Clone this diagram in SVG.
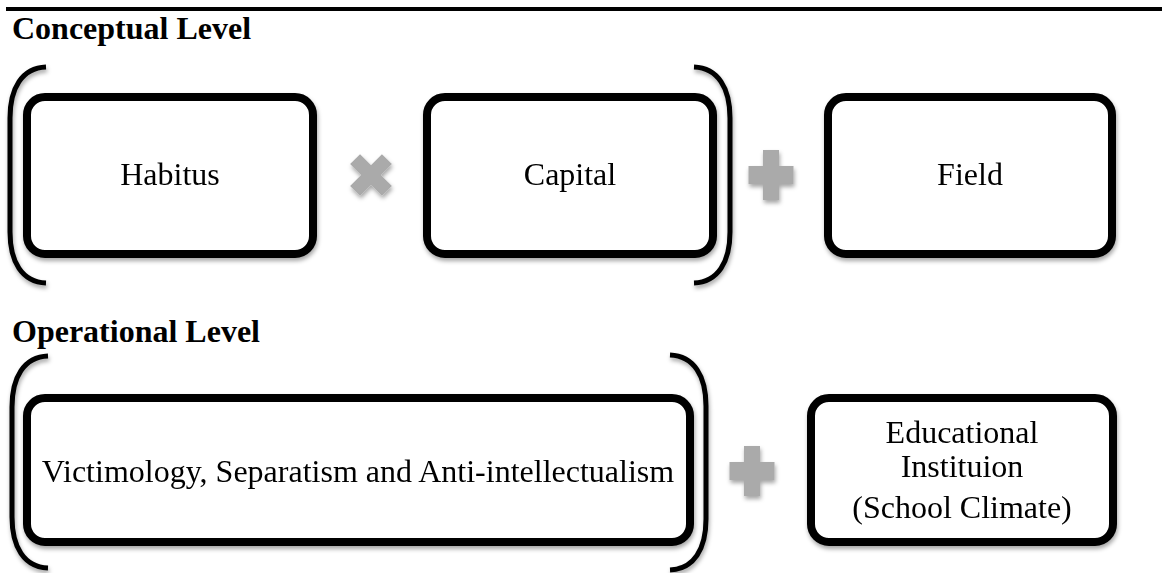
<svg xmlns="http://www.w3.org/2000/svg" width="1162" height="573" viewBox="0 0 1162 573">
<style>
.box{fill:#ffffff;stroke:#000000;stroke-width:8}
.br{fill:none;stroke:#000000;stroke-width:5}
.t{font-family:"Liberation Serif","Times New Roman",serif;font-size:32px;fill:#000000;text-anchor:middle}
.h{font-family:"Liberation Serif","Times New Roman",serif;font-size:32px;font-weight:bold;fill:#000000}
.op{fill:#aaaaaa}
</style>
<defs>
<filter id="sh" x="-10%" y="-10%" width="125%" height="130%">
<feDropShadow dx="1" dy="3" stdDeviation="2" flood-color="#000000" flood-opacity="0.35"/>
</filter>
<g id="plus" class="op">
<rect x="-8" y="-25" width="16" height="50"/>
<rect x="-22.5" y="-9" width="45" height="18"/>
</g>
<g id="times" class="op">
<rect x="-22.5" y="-7" width="45" height="14" transform="rotate(45)"/>
<rect x="-22.5" y="-7" width="45" height="14" transform="rotate(-45)"/>
</g>
</defs>
<rect x="0" y="0" width="1162" height="573" fill="#ffffff"/>
<line x1="6" y1="9" x2="1162" y2="9" stroke="#000000" stroke-width="4"/>
<text class="h" x="12" y="39">Conceptual Level</text>
<text class="h" x="12" y="342">Operational Level</text>
<g id="connectors" filter="url(#sh)">
<path class="br" d="M46,67 C22,68 10,88 10,118 L10,232 C10,262 22,282 46,283"/>
<path class="br" d="M694,67 C718,68 730,88 730,118 L730,232 C730,262 718,282 694,283"/>
<path class="br" d="M48,356 C24,357 12,377 12,407 L12,517 C12,547 24,567 48,568"/>
<path class="br" d="M670,355 C694,356 706,376 706,406 L706,519 C706,549 694,569 670,570"/>
<use href="#times" x="371" y="175"/>
<use href="#plus" x="771" y="175"/>
<use href="#plus" x="752" y="471"/>
</g>
<g id="habitus" filter="url(#sh)">
<rect class="box" x="27" y="97" width="286" height="157" rx="18"/>
<text class="t" x="170" y="185">Habitus</text>
</g>
<g id="capital" filter="url(#sh)">
<rect class="box" x="427" y="97" width="286" height="157" rx="18"/>
<text class="t" x="570" y="185">Capital</text>
</g>
<g id="field" filter="url(#sh)">
<rect class="box" x="828" y="97" width="284" height="157" rx="18"/>
<text class="t" x="970" y="185">Field</text>
</g>
<g id="victimology" filter="url(#sh)">
<rect class="box" x="27" y="398" width="663" height="144" rx="18"/>
<text class="t" x="358" y="482">Victimology, Separatism and Anti-intellectualism</text>
</g>
<g id="educational" filter="url(#sh)">
<rect class="box" x="811" y="398" width="302" height="144" rx="18"/>
<text class="t" x="962" y="443">Educational</text>
<text class="t" x="962" y="477">Instituion</text>
<text class="t" x="962" y="518">(School Climate)</text>
</g>
</svg>
